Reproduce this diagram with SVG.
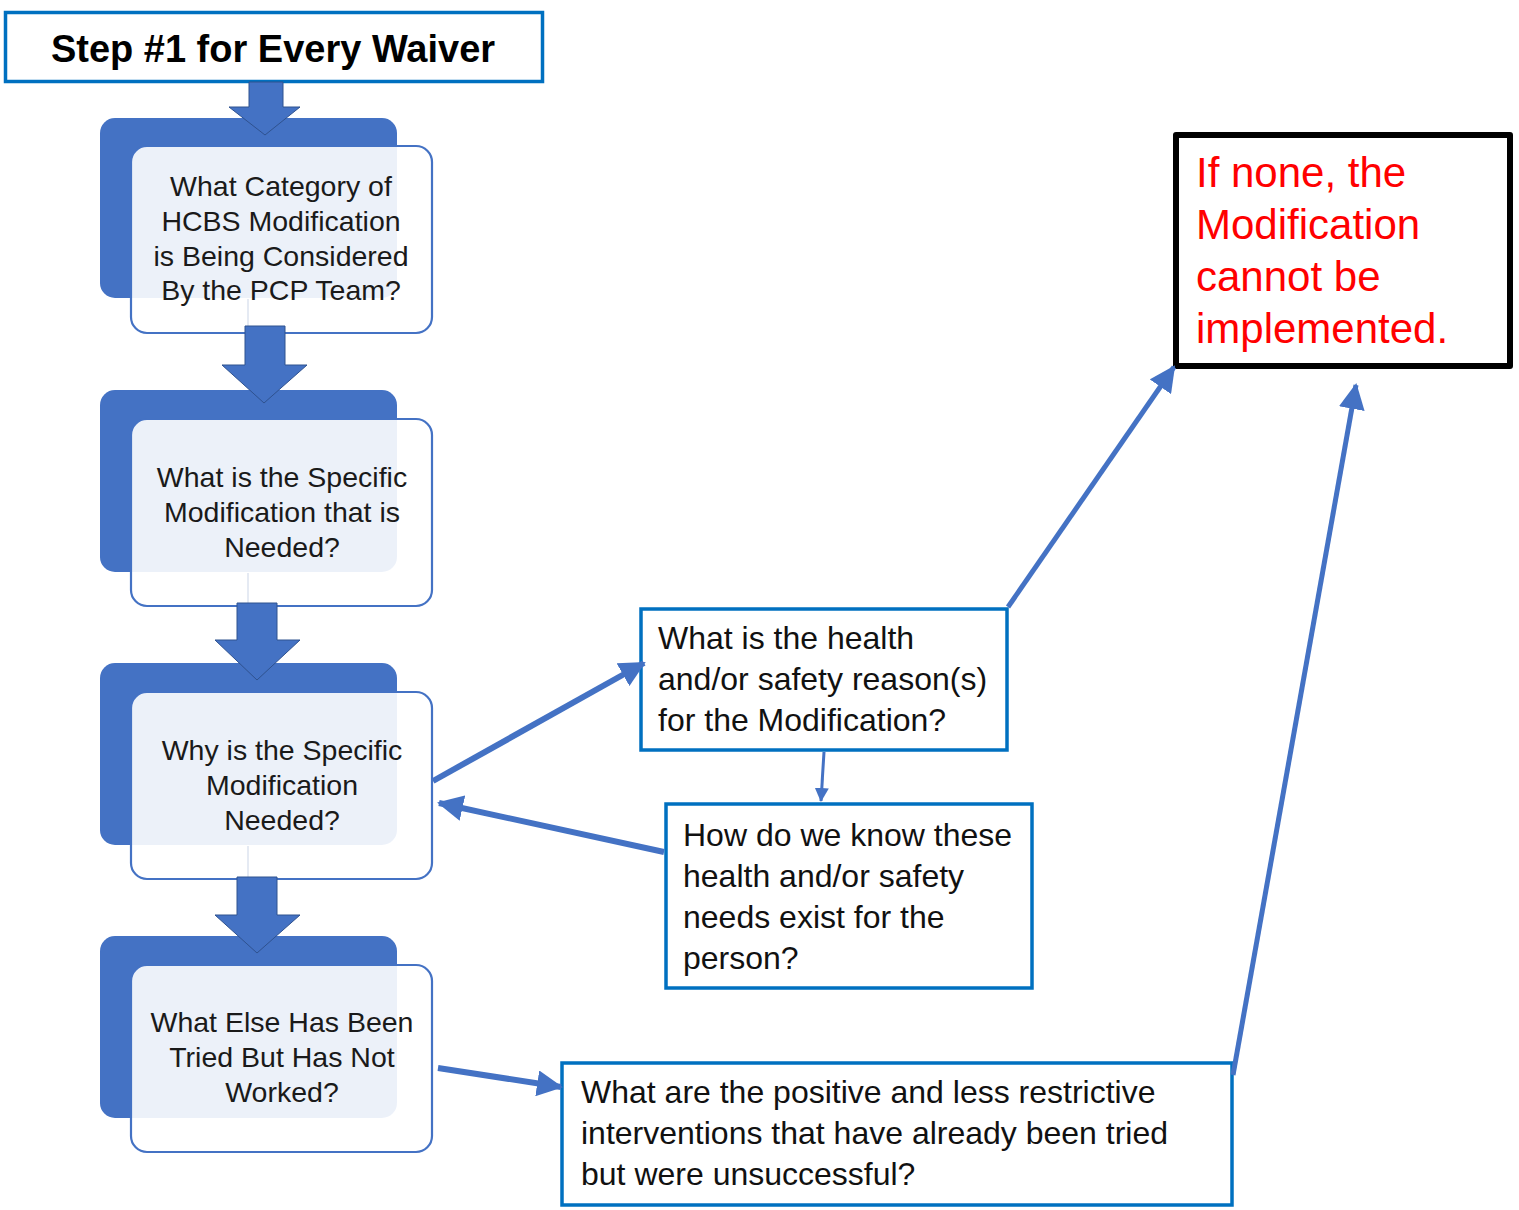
<svg xmlns="http://www.w3.org/2000/svg" width="1519" height="1210" viewBox="0 0 1519 1210">
  <style>
    .back { fill: #4472C4; }
    .front { fill: #FFFFFF; fill-opacity: 0.9; stroke: #4472C4; stroke-width: 2.2; }
    .qtext { font-family: "Liberation Sans", Arial, sans-serif; font-size: 28.5px; fill: #1a1a1a; text-anchor: middle; }
    .btext { font-family: "Liberation Sans", Arial, sans-serif; font-size: 32px; fill: #111111; }
    .rtext { font-family: "Liberation Sans", Arial, sans-serif; font-size: 42px; fill: #FF0000; }
    .bluebox { fill: #FFFFFF; stroke: #0070C0; stroke-width: 3.5; }
    .down { fill: #4472C4; stroke: #2F528F; stroke-width: 1; }
    .conn { stroke: #4472C4; fill: none; }
    .faint { stroke: #DCE3EF; stroke-width: 1.5; }
  </style>
  <defs>
    <marker id="ah" markerUnits="userSpaceOnUse" viewBox="0 0 26 26" refX="24" refY="13" markerWidth="26" markerHeight="26" orient="auto">
      <path d="M0,0 L26,13 L0,26 z" fill="#4472C4"/>
    </marker>
    <marker id="ahs" markerUnits="userSpaceOnUse" viewBox="0 0 14 14" refX="13" refY="7" markerWidth="14" markerHeight="14" orient="auto">
      <path d="M0,0 L14,7 L0,14 z" fill="#4472C4"/>
    </marker>
  </defs>

  <g id="title">
    <rect x="5.5" y="12.5" width="537" height="69" fill="#FFFFFF" stroke="#0070C0" stroke-width="3.5"/>
    <text x="273" y="62" font-family="'Liberation Sans', Arial, sans-serif" font-size="38" font-weight="bold" text-anchor="middle" fill="#000000">Step #1 for Every Waiver</text>
  </g>

  <g id="q1">
    <rect class="back" x="100" y="118" width="297" height="180" rx="15"/>
    <rect class="front" x="131" y="146" width="301" height="187" rx="16"/>
    <line class="faint" x1="248" y1="299" x2="248" y2="332"/>
    <text class="qtext" x="281" y="196">What Category of</text>
    <text class="qtext" x="281" y="231">HCBS Modification</text>
    <text class="qtext" x="281" y="266">is Being Considered</text>
    <text class="qtext" x="281" y="300">By the PCP Team?</text>
  </g>

  <g id="q2">
    <rect class="back" x="100" y="390" width="297" height="182" rx="15"/>
    <rect class="front" x="131" y="419" width="301" height="187" rx="16"/>
    <line class="faint" x1="248" y1="573" x2="248" y2="605"/>
    <text class="qtext" x="282" y="487">What is the Specific</text>
    <text class="qtext" x="282" y="522">Modification that is</text>
    <text class="qtext" x="282" y="557">Needed?</text>
  </g>

  <g id="q3">
    <rect class="back" x="100" y="663" width="297" height="182" rx="15"/>
    <rect class="front" x="131" y="692" width="301" height="187" rx="16"/>
    <line class="faint" x1="248" y1="846" x2="248" y2="878"/>
    <text class="qtext" x="282" y="760">Why is the Specific</text>
    <text class="qtext" x="282" y="795">Modification</text>
    <text class="qtext" x="282" y="830">Needed?</text>
  </g>

  <g id="q4">
    <rect class="back" x="100" y="936" width="297" height="182" rx="15"/>
    <rect class="front" x="131" y="965" width="301" height="187" rx="16"/>
    <text class="qtext" x="282" y="1032">What Else Has Been</text>
    <text class="qtext" x="282" y="1067">Tried But Has Not</text>
    <text class="qtext" x="282" y="1102">Worked?</text>
  </g>

  <g id="health">
    <rect class="bluebox" x="641" y="609" width="366" height="141"/>
    <text class="btext" x="658" y="649">What is the health</text>
    <text class="btext" x="658" y="690">and/or safety reason(s)</text>
    <text class="btext" x="658" y="731">for the Modification?</text>
  </g>

  <g id="howknow">
    <rect class="bluebox" x="666" y="804" width="366" height="184"/>
    <text class="btext" x="683" y="846">How do we know these</text>
    <text class="btext" x="683" y="887">health and/or safety</text>
    <text class="btext" x="683" y="928">needs exist for the</text>
    <text class="btext" x="683" y="969">person?</text>
  </g>

  <g id="positive">
    <rect class="bluebox" x="562" y="1063" width="670" height="142"/>
    <text class="btext" x="581" y="1103">What are the positive and less restrictive</text>
    <text class="btext" x="581" y="1144">interventions that have already been tried</text>
    <text class="btext" x="581" y="1185">but were unsuccessful?</text>
  </g>

  <g id="none">
    <rect x="1176" y="135" width="334" height="231" fill="#FFFFFF" stroke="#000000" stroke-width="6" stroke-linejoin="round"/>
    <text class="rtext" x="1196" y="187">If none, the</text>
    <text class="rtext" x="1196" y="239">Modification</text>
    <text class="rtext" x="1196" y="291">cannot be</text>
    <text class="rtext" x="1196" y="343">implemented.</text>
  </g>

  <g id="flow-arrows">
    <path class="down" d="M249,82 L283,82 L283,107 L300,107 L265,135 L229,107 L249,107 z"/>
    <path class="down" d="M245,326 L285,326 L285,365 L307,365 L264,403 L222,365 L245,365 z"/>
    <path class="down" d="M237,603 L277,603 L277,640 L300,640 L257,680 L215,640 L237,640 z"/>
    <path class="down" d="M237,877 L277,877 L277,915 L300,915 L257,953 L215,915 L237,915 z"/>
  </g>

  <g id="connectors">
    <line class="conn" x1="433" y1="781" x2="644" y2="663" stroke-width="6" marker-end="url(#ah)"/>
    <line class="conn" x1="824" y1="752" x2="821" y2="801" stroke-width="3" marker-end="url(#ahs)"/>
    <line class="conn" x1="664" y1="852" x2="439" y2="803" stroke-width="6" marker-end="url(#ah)"/>
    <line class="conn" x1="1008" y1="607" x2="1174" y2="367" stroke-width="5" marker-end="url(#ah)"/>
    <line class="conn" x1="438" y1="1068" x2="561" y2="1087" stroke-width="6" marker-end="url(#ah)"/>
    <line class="conn" x1="1233" y1="1075" x2="1356" y2="385" stroke-width="5" marker-end="url(#ah)"/>
  </g>
</svg>
